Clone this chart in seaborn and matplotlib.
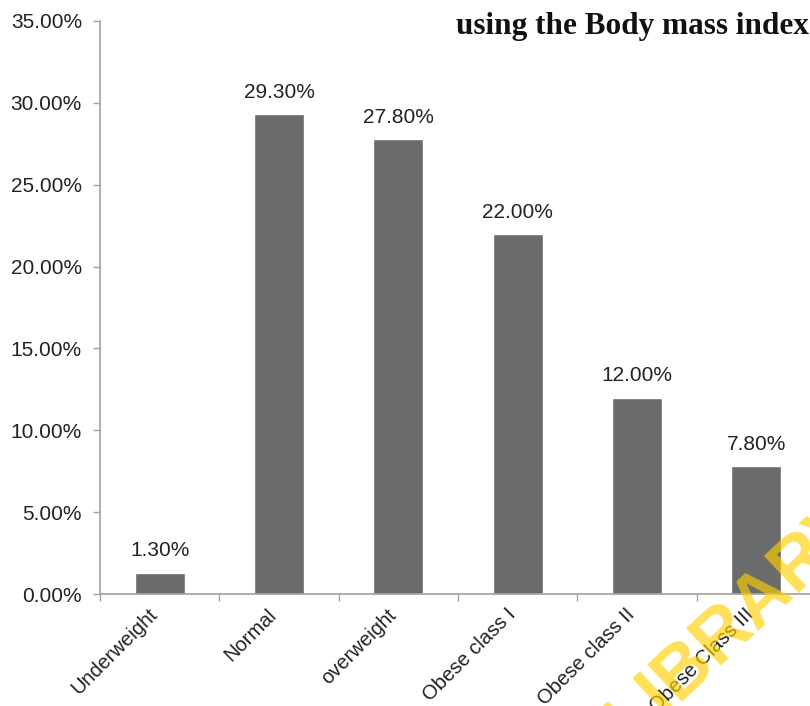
import numpy as np
import pandas as pd
import seaborn as sns
import matplotlib.pyplot as plt
import matplotlib.transforms as mtransforms
from matplotlib.ticker import FuncFormatter

categories = ["Underweight", "Normal", "overweight", "Obese class I", "Obese class II", "Obese Class III"]
percent = [1.3, 29.3, 27.8, 22.0, 12.0, 7.8]

df = pd.DataFrame({"category": categories, "percent": percent})

sns.set_style("white")
plt.rcParams['font.family'] = ['Liberation Sans', 'DejaVu Sans']

fig = plt.figure(figsize=(8.10, 7.06), dpi=100)
ax = fig.add_axes([100 / 810, 112 / 706, 716 / 810, 573 / 706])

sns.barplot(data=df, x="category", y="percent", color="#6b6b6b", saturation=1,
            width=0.42, ax=ax, zorder=2)

ax.set_xlim(-0.5, 5.5)
ax.set_ylim(0, 35)
ax.set_yticks(np.arange(0, 36, 5))
ax.yaxis.set_major_formatter(FuncFormatter(lambda v, p: f"{v:.2f}%"))
ax.set_xlabel("")
ax.set_ylabel("")

for s in ["top", "right"]:
    ax.spines[s].set_visible(False)
for s in ["left", "bottom"]:
    ax.spines[s].set_color("#a0a0a0")
    ax.spines[s].set_linewidth(1.2)

ax.tick_params(axis="y", which="major", direction="out", length=5, width=1,
               color="#a0a0a0", labelsize=15, labelcolor="#222222", left=True, pad=8)
ax.set_xticks(range(len(categories)))
ax.set_xticklabels(categories, rotation=45, ha="right", rotation_mode="anchor",
                   fontsize=14.5, color="#222222")
ax.tick_params(axis="x", which="major", length=0, pad=8)
ax.set_xticks(np.arange(-0.5, 6, 1), minor=True)
ax.tick_params(axis="x", which="minor", direction="out", length=5, width=1,
               color="#a0a0a0", bottom=True)
# shift the rotated labels a little to the left, as in the original
shift = mtransforms.ScaledTranslation(-12 / 100, 0, fig.dpi_scale_trans)
for lbl in ax.get_xticklabels():
    lbl.set_transform(lbl.get_transform() + shift)

for i, v in enumerate(percent):
    ax.text(i, v + 0.75, f"{v:.2f}%", ha="center", va="bottom",
            fontsize=15, color="#222222")

fig.text(456 / 810, 1 - 34 / 706, "using the Body mass index",
         fontsize=22.5, fontweight="bold", family="Liberation Serif",
         color="#111111", ha="left", va="baseline")

fig.text(630 / 810, -40 / 706, "LIBRARY", fontsize=53, fontweight="bold",
         color="#ffd000", alpha=0.65, rotation=43, rotation_mode="anchor",
         ha="left", va="baseline", zorder=10)

fig.savefig("out.png", dpi=100)
